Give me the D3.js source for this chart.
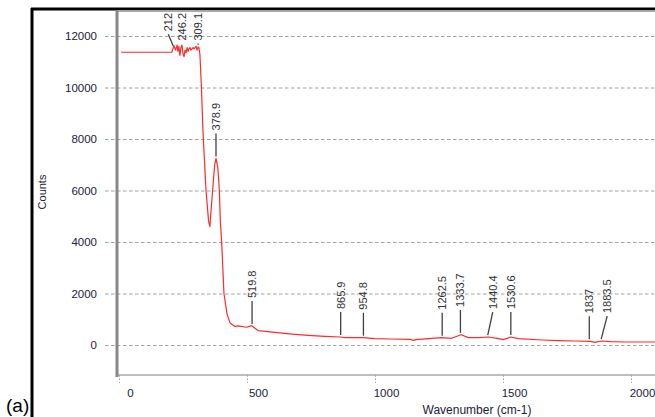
<!DOCTYPE html>
<html><head><meta charset="utf-8">
<script src="https://cdn.jsdelivr.net/npm/d3@7"></script>
<style>
html,body{margin:0;padding:0;background:#fff;}
svg{display:block;}
text{font-family:"Liberation Sans",Arial,sans-serif;}
</style></head>
<body>
<svg id="c" width="655" height="417"></svg>
<script>
// ---- data ----
const wavenumber = [8,206,215,221,227,230,234,238,242,246,250,254,258,262,266,270,273,277,281,289,293,301,305,309,312,316,322,328,340,350,355,361,368,374,379,386,392,396,402,410,422,434,453,465,499,518,543,609,675,739,805,864,883,953,1000,1065,1140,1150,1160,1221,1260,1299,1336,1365,1404,1443,1482,1501,1531,1560,1651,1716,1781,1842,1859,1885,1924,1977,2094];
const counts     = [11370,11370,11620,11450,11650,11400,11600,11250,11550,11650,11300,11200,11450,11350,11550,11400,11500,11550,11450,11550,11500,11600,11450,11580,11550,11300,10000,8300,6000,4800,4600,5400,6300,7000,7250,6900,6000,4800,3800,2000,1200,850,720,740,690,750,560,490,425,375,337,310,285,285,245,233,215,180,210,260,285,260,400,285,285,310,245,207,310,245,194,168,155,142,104,155,130,116,116];
const peakPos    = [212,246.2,309.1,378.9,519.8,865.9,954.8,1262.5,1333.7,1440.4,1530.6,1837,1883.5];
const peakLabels = ["212","246.2","309.1","378.9","519.8","865.9","954.8","1262.5","1333.7","1440.4","1530.6","1837","1883.5"];
const xTicks = [0,500,1000,1500,2000];
const yTicks = [0,2000,4000,6000,8000,10000,12000];
const xTitle = "Wavenumber (cm-1)";
const yTitle = "Counts";
const panelTag = "(a)";

// ---- layout ----
const W = 655, H = 417;
const L = 117, R = 655, T = 11, B = 375;
const svg = d3.select("#c");

const x = d3.scaleLinear().domain([-7.8, 2093.75]).range([L, R]);
const y = d3.scaleLinear().domain([-1165, 12971]).range([B, T]);

// outer black frame (top + left)
svg.append("line").attr("x1",31).attr("x2",W).attr("y1",9).attr("y2",9).attr("stroke","#000").attr("stroke-width",3);
svg.append("line").attr("x1",32).attr("x2",32).attr("y1",8).attr("y2",H).attr("stroke","#000").attr("stroke-width",3);

// horizontal grid (incl. outer tick)
const gy = svg.append("g").attr("transform",`translate(${L},0)`)
  .call(d3.axisLeft(y).tickValues(yTicks).tickSize(-(R-L)).tickFormat(""));
gy.select(".domain").remove();
gy.selectAll(".tick line").attr("stroke","#a0a0a0").attr("stroke-dasharray","3.5,2.5").attr("x1",-12);

// vertical grid
const gx = svg.append("g").attr("transform",`translate(0,${B})`)
  .call(d3.axisBottom(x).tickValues(xTicks).tickSize(-(B-T)).tickFormat(""));
gx.select(".domain").remove();
gx.selectAll(".tick line").attr("stroke","#a0a0a0").attr("stroke-dasharray","1.7,1.7").attr("y2",8);

// plot borders
svg.append("line").attr("x1",L).attr("x2",R).attr("y1",T).attr("y2",T).attr("stroke","#a8a8a8").attr("stroke-width",2);
svg.append("line").attr("x1",L).attr("x2",R).attr("y1",B).attr("y2",B).attr("stroke","#a8a8a8").attr("stroke-width",1.5);
svg.append("line").attr("x1",L).attr("x2",L).attr("y1",T-1).attr("y2",B+2).attr("stroke","#888").attr("stroke-width",3);

// y axis labels
const ay = svg.append("g").attr("transform",`translate(${L},0)`)
  .call(d3.axisLeft(y).tickValues(yTicks).tickSize(12).tickPadding(8).tickFormat(d3.format("d")));
ay.select(".domain").remove();
ay.selectAll(".tick line").remove();
ay.selectAll(".tick text").attr("font-size","11.5px").attr("fill","#20203a").attr("font-family","Liberation Sans, Arial, sans-serif");

// x axis labels
const ax = svg.append("g").attr("transform",`translate(0,${B})`)
  .call(d3.axisBottom(x).tickValues(xTicks).tickSize(8).tickPadding(6).tickFormat(d3.format("d")));
ax.select(".domain").remove();
ax.selectAll(".tick line").remove();
ax.selectAll(".tick text").attr("dx",11).attr("y",22).attr("dy",0).attr("font-size","11.5px").attr("fill","#20203a").attr("font-family","Liberation Sans, Arial, sans-serif");

// titles
svg.append("text").attr("x",477).attr("y",414).attr("text-anchor","middle").attr("font-size","12px").attr("fill","#20203a").text(xTitle);
svg.append("text").attr("transform","translate(46,192) rotate(-90)").attr("text-anchor","middle").attr("font-size","11px").attr("fill","#20203a").text(yTitle);
svg.append("text").attr("x",6).attr("y",412).attr("font-size","19px").attr("font-family","Liberation Serif, Times New Roman, serif").attr("fill","#000").text(panelTag);

// spectrum
const pts = wavenumber.map((w,i)=>[w,counts[i]]);
svg.append("path").datum(pts)
  .attr("d", d3.line().x(d=>x(d[0])).y(d=>y(d[1])))
  .attr("fill","none").attr("stroke","#ff2a2a").attr("stroke-width",1.2).attr("stroke-linejoin","round");

// peak labels
const bis = d3.bisector(d=>d[0]).left;
function valAt(w){
  const i = Math.max(1, Math.min(pts.length-1, bis(pts,w)));
  const a = pts[i-1], b = pts[i];
  const t = (w-a[0])/(b[0]-a[0]);
  return a[1] + t*(b[1]-a[1]);
}
const nudge = {"212":-5, "1440.4":5, "1883.5":6};
const lg = svg.append("g");
peakPos.forEach((p,i)=>{
  const lab = peakLabels[i];
  const px = x(p);
  const yc = y(valAt(p));
  const tx = px + (nudge[lab]||0);
  const t = lg.append("text").attr("font-size","11px").attr("fill","#303030").text(lab);
  const len = t.node().getComputedTextLength();
  let lineTop = yc - 25;
  let textBottom = lineTop - 3;
  if (textBottom - len < T + 2) {
    textBottom = T + 2 + len;
    lineTop = textBottom + 3;
  }
  t.attr("transform",`translate(${tx+4},${textBottom}) rotate(-90)`);
  if (yc - 2 > lineTop) {
    lg.append("line").attr("x1",tx).attr("y1",lineTop).attr("x2",px).attr("y2",yc-2)
      .attr("stroke","#404040").attr("stroke-width",1.3);
  }
});
</script>
</body></html>
